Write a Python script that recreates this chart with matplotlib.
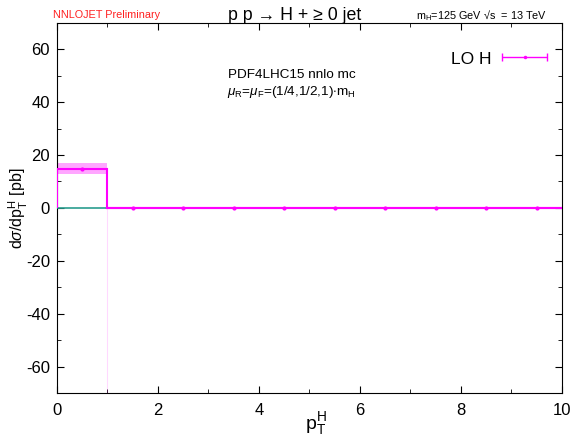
import numpy as np
import matplotlib.pyplot as plt

plt.rcParams.update({
    'font.family': ['Liberation Sans', 'DejaVu Sans'],
    'font.size': 12,
    'mathtext.fontset': 'custom',
    'mathtext.rm': 'Liberation Sans',
    'mathtext.it': 'Liberation Sans:italic',
    'axes.unicode_minus': False,
})

# histogram bins (pT^H) and LO cross section per bin
bin_edges = [0, 1, 2, 3, 4, 5, 6, 7, 8, 9, 10]
lo_central = [14.7, 0, 0, 0, 0, 0, 0, 0, 0, 0]
lo_low = [12.9, 0, 0, 0, 0, 0, 0, 0, 0, 0]
lo_high = [17.0, 0, 0, 0, 0, 0, 0, 0, 0, 0]

MAG = '#ff00ff'
TEAL = '#2a9d8f'

fig = plt.figure(figsize=(5.77, 4.36), dpi=100)
ax = fig.add_axes([0.0988, 0.0986, 0.875, 0.849])

edges = np.array(bin_edges)
centers = 0.5 * (edges[:-1] + edges[1:])
c = np.array(lo_central)
lo = np.array(lo_low)
hi = np.array(lo_high)

# scale band
ax.stairs(hi, edges, baseline=lo, fill=True, color=MAG, alpha=0.35, lw=0)
# faint band edge down to the bottom at first bin edge
ax.axvline(edges[1], ymax=0.5, color=MAG, alpha=0.15, lw=0.8)
# zero line of the lower series in first bin
ax.plot([edges[0], edges[1]], [0, 0], color=TEAL, lw=1.2, zorder=3)
# central histogram
ax.stairs(c, edges, color=MAG, lw=1.5, zorder=4)
ax.plot([edges[1], edges[-1]], [0, 0], color=MAG, lw=1.5, zorder=4)
ax.errorbar(centers, c, yerr=0, fmt='o', ms=2, color=MAG, zorder=5)

# legend entry
ax.text(0.861, 0.900, 'LO H', transform=ax.transAxes, ha='right', va='center', fontsize=12.5)
ax.errorbar([0.926], [0.908], xerr=[0.0446], transform=ax.transAxes, fmt='o', ms=1.5,
            color=MAG, capsize=3, lw=1, capthick=1, clip_on=False)

ax.text(0.465, 0.860, 'PDF4LHC15 nnlo mc', transform=ax.transAxes, ha='center',
        va='center', fontsize=9.7)
ax.text(0.465, 0.814, r'$\mu_\mathrm{R}$=$\mu_\mathrm{F}$=(1/4,1/2,1)$\cdot$m$_\mathrm{H}$',
        transform=ax.transAxes, ha='center', va='center', fontsize=9.7)

ax.set_xlim(0, 10)
ax.set_ylim(-70, 70)
ax.set_xticks(range(0, 11, 2))
ax.set_xticks(range(1, 10, 2), minor=True)
ax.set_yticks(range(-60, 61, 20))
ax.set_yticks(range(-70, 71, 10), minor=True)
ax.tick_params(which='both', direction='in', top=True, right=True, labelsize=12)
ax.tick_params(which='major', length=5)
ax.tick_params(which='minor', length=3)
ax.tick_params(axis='x', pad=7)
ax.tick_params(axis='y', pad=5)

ax.set_xlabel(r'p$_\mathrm{T}^\mathrm{H}$', fontsize=14)
ax.xaxis.set_label_coords(0.513, -0.045)
ax.set_ylabel(r'd$\sigma$/dp$_\mathrm{T}^\mathrm{H}$ [pb]', fontsize=11.5)
ax.yaxis.set_label_coords(-0.054, 0.5)

fig.text(0.092, 0.965, 'NNLOJET Preliminary', color='#ff2020', fontsize=7.8, va='center')
fig.text(0.511, 0.965, 'p p \u2192 H + \u2265 0 jet', fontsize=12.8, ha='center', va='center')
fig.text(0.834, 0.965, r'm$_\mathrm{H}$=125 GeV' + ' \u221as  = 13 TeV', fontsize=7.8,
         ha='center', va='center')

fig.savefig('out.png', dpi=100)
